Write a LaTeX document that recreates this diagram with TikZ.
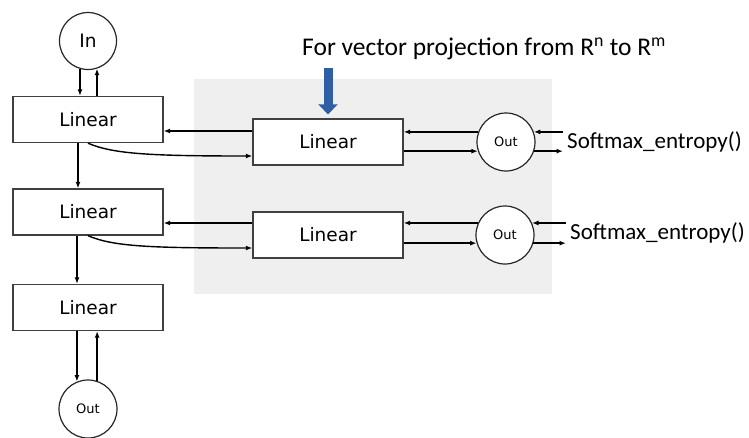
\documentclass[tikz,border=0pt]{standalone}
\usepackage{fontspec}
\setmainfont{Carlito}
\newfontfamily\boxfont{DejaVu Sans}
\usetikzlibrary{arrows.meta}
\definecolor{panelgray}{RGB}{239,239,239}
\definecolor{edgegray}{RGB}{64,64,64}
\definecolor{projblue}{RGB}{46,94,166}
\begin{document}
\begin{tikzpicture}[x=1pt,y=-1pt,
  layerbox/.style={draw=edgegray, line width=1.3pt, fill=white,
    minimum width=150pt, minimum height=46pt, inner sep=0pt,
    font=\boxfont\fontsize{18.5}{20}\selectfont},
  unit/.style={circle, draw=black!85, line width=1.2pt, fill=white,
    minimum size=58pt, inner sep=0pt},
  arr/.style={-{Latex[length=6.5pt,width=5pt]}, line width=1.4pt, black},
  note/.style={inner sep=0pt, font=\fontsize{23}{26}\selectfont}]
\useasboundingbox (0,0) rectangle (749,437);

% shaded panel behind the projection heads
\fill[panelgray] (194,79) rectangle (552,294);

% main stack
\node[unit, minimum size=57pt, font=\boxfont\fontsize{18.5}{20}\selectfont] (In) at (88,41) {In};
\node[layerbox] (L1) at (88,119.5) {Linear};
\node[layerbox] (L2) at (88,212) {Linear};
\node[layerbox] (L3) at (88,307.5) {Linear};
\node[unit, font=\boxfont\fontsize{13}{15}\selectfont] (Out) at (88,409) {Out};

% projection heads
\node[layerbox] (M1) at (328,142) {Linear};
\node[layerbox] (M2) at (328,235) {Linear};
\node[unit, font=\boxfont\fontsize{13}{15}\selectfont] (O1) at (506,142) {Out};
\node[unit, font=\boxfont\fontsize{13}{15}\selectfont] (O2) at (505,235) {Out};
\node[note, anchor=west, inner xsep=4pt] (S1) at (563,142) {Softmax\_entropy()};
\node[note, anchor=west, inner xsep=4pt] (S2) at (566,233) {Softmax\_entropy()};

% caption and its pointer
\node[inner sep=0pt, anchor=west, font=\fontsize{25.5}{28}\selectfont] (T) at (302,49)
  {For vector projection from R\textsuperscript{n} to R\textsuperscript{m}};
\coordinate (btop) at (328,68);
\draw[projblue, line width=9pt, -{Triangle[width=19pt,length=10pt]}]
  (btop) -- ([yshift=4pt]M1.north);

% vertical flow
\draw[arr] (In.254) -- (In.254 |- L1.north);
\draw[arr] (In.288 |- L1.north) -- (In.288);
\draw[arr] ([xshift=-10pt]L1.south) -- ([xshift=-10pt]L2.north);
\draw[arr] ([xshift=-11pt]L2.south) -- ([xshift=-11pt]L3.north);
\draw[arr] (Out.112 |- L3.south) -- (Out.112);
\draw[arr] (Out.72) -- (Out.72 |- L3.south);

% first head
\draw[arr] ([yshift=11pt]M1.west) -- ([yshift=11pt]M1.west -| L1.east);
\draw[arr] (L1.south) .. controls +(25,11) and +(-100,0) .. ([yshift=-14pt]M1.west);
\draw[arr] (O1.160) -- (O1.160 -| M1.east);
\draw[arr] (O1.198 -| M1.east) -- (O1.198);
\draw[arr] (S1.west |- O1.20) -- (O1.20);
\draw[arr] (O1.-18) -- (O1.-18 -| S1.west);

% second head
\draw[arr] ([yshift=12pt]M2.west) -- ([yshift=12pt]M2.west -| L2.east);
\draw[arr] (L2.south) .. controls +(25,11) and +(-100,0) .. ([yshift=-13pt]M2.west);
\draw[arr] (O2.156) -- (O2.156 -| M2.east);
\draw[arr] (O2.196 -| M2.east) -- (O2.196);
\draw[arr] (S2.west |- O2.24) -- (O2.24);
\draw[arr] (O2.-16) -- (O2.-16 -| S2.west);
\end{tikzpicture}
\end{document}
